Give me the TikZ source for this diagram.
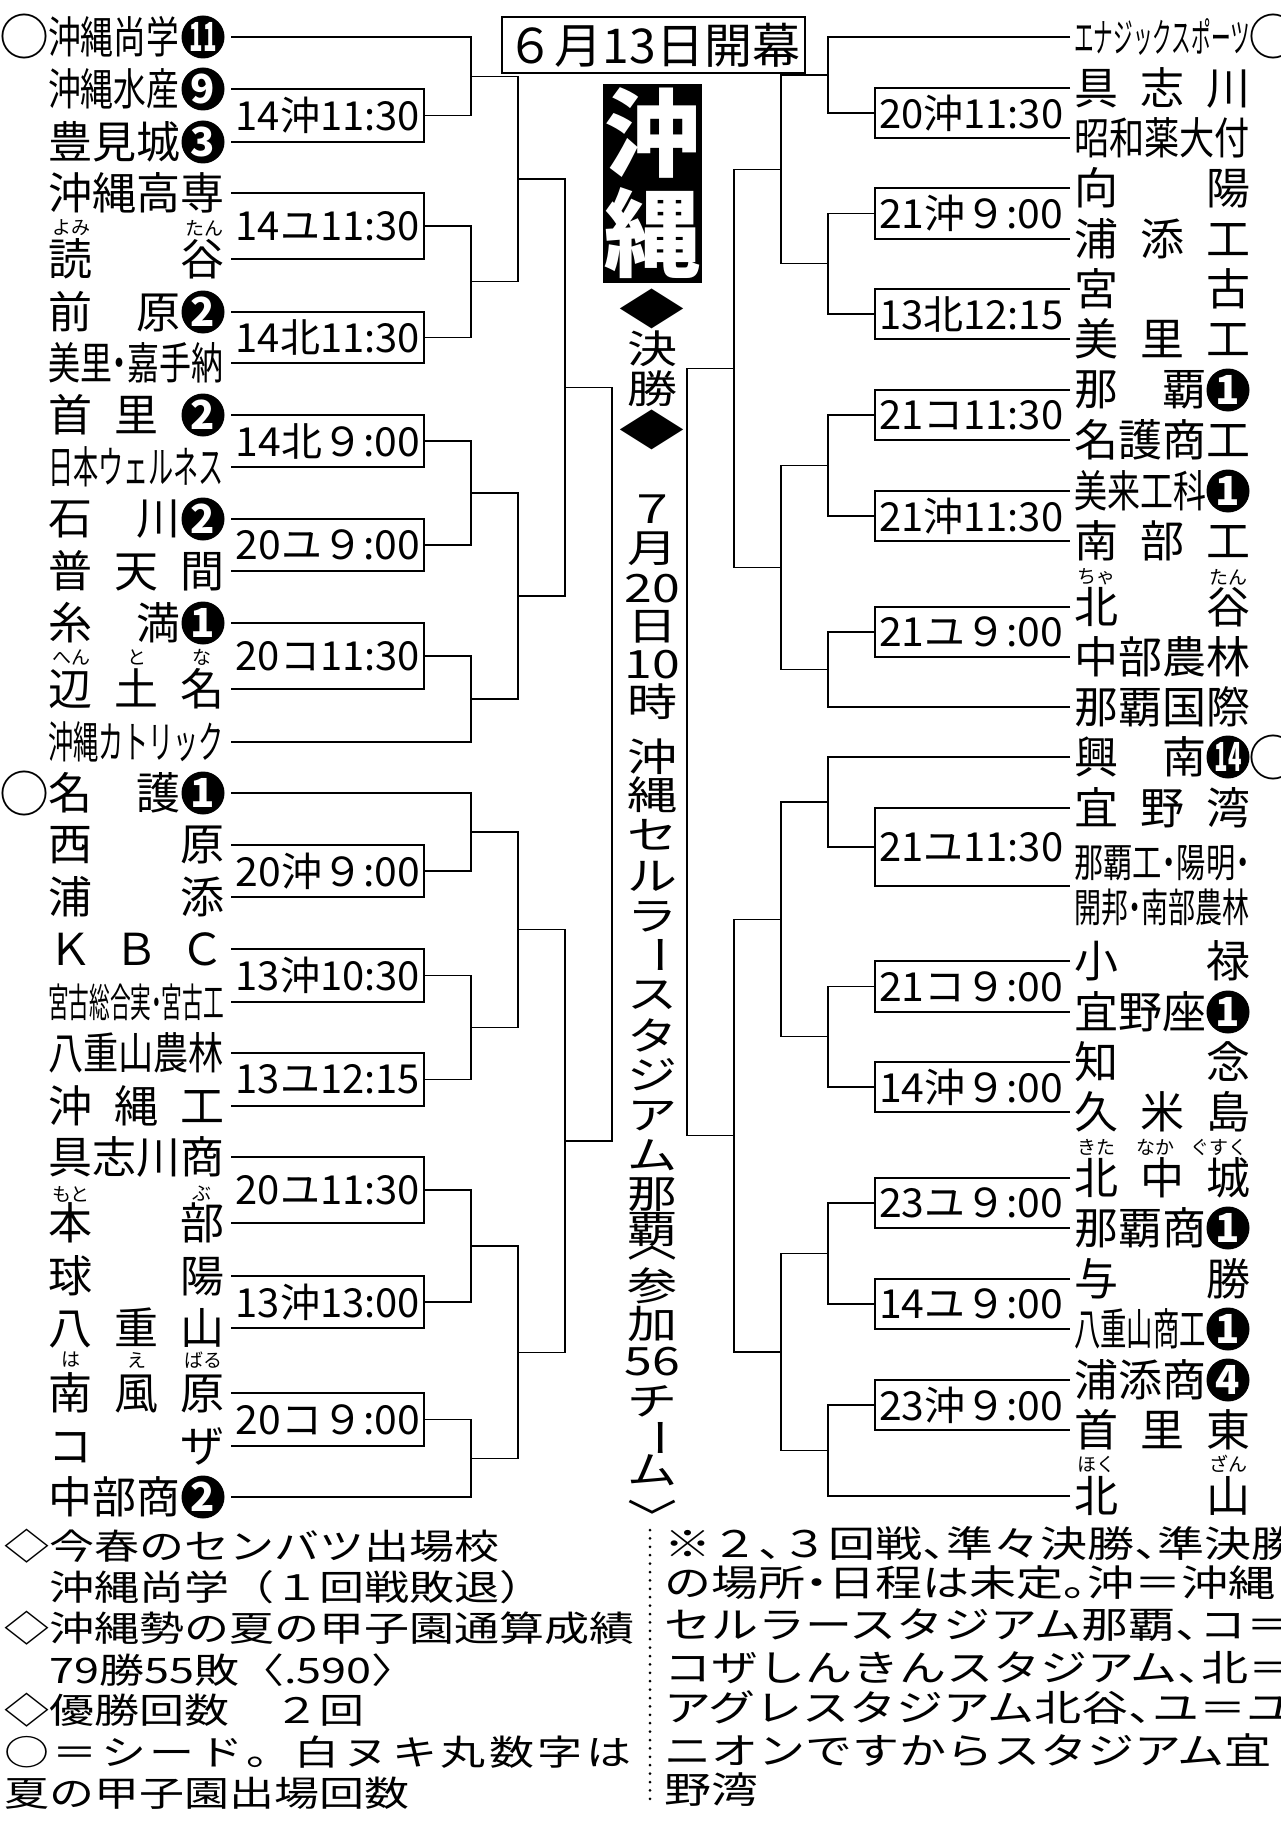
\documentclass[tikz,border=0pt]{standalone}
\usepackage{fontspec}
\usepackage{graphicx}
\setmainfont{Noto Sans CJK JP}
\newfontfamily\haltfont{Noto Sans CJK JP}[RawFeature=+halt]
\newfontfamily\widefont{Noto Sans CJK JP}[LetterSpace=8]
\usetikzlibrary{calc,positioning}

\newcommand\teamfont{\fontsize{44pt}{48pt}\selectfont}
\newcommand\rubyfont{\fontsize{19pt}{20pt}\selectfont}
\newcommand\timefont{\fontsize{40pt}{42pt}\selectfont}
\newcommand\numfont{\fontsize{40pt}{40pt}\selectfont\bfseries}
\newcommand\seedfont{\fontsize{50pt}{50pt}\selectfont}
\newcommand\vfont{\fontsize{50pt}{50pt}\selectfont}
\newcommand\lnotefont{\fontsize{45pt}{45pt}\selectfont}
\newcommand\rnotefont{\haltfont\fontsize{47pt}{47pt}\selectfont}
\newcommand\tname[1]{\makebox[176pt][s]{#1}}
\newcommand\tsq[2][176pt]{\resizebox{#1}{\height}{#2}}
\newcommand\tlab[1]{\resizebox{184pt}{\height}{#1}}
\newcommand\flt[1]{\scalebox{1}[0.78]{#1}}
\newcommand\vlong{\rotatebox[origin=c]{-90}{ー}}
\newcommand\vdia{\scalebox{1.3}[1.05]{◆}}

\begin{document}
\begin{tikzpicture}[x=1pt,y=-1pt,
  team/.style={inner sep=0pt,font=\teamfont},
  lteam/.style={team,anchor=west,outer xsep=7pt},
  rteam/.style={team,anchor=west,outer xsep=4pt},
  ruby/.style={inner sep=0pt,font=\rubyfont},
  numc/.style={circle,fill=black,text=white,inner sep=0pt,minimum size=43pt,font=\numfont},
  seed/.style={inner sep=0pt,font=\seedfont},
  tlbl/.style={inner sep=0pt,font=\timefont},
  vchar/.style={inner sep=0pt,font=\vfont},
  lnote/.style={anchor=west,inner sep=0pt,font=\lnotefont},
  rnote/.style={anchor=west,inner sep=0pt,font=\rnotefont},
  bline/.style={line width=1.2pt},
  byeline/.style={line width=2.2pt}]

\useasboundingbox (0,0) rectangle (1280,1827);
\clip (0,0) rectangle (1280,1827);
\fill[white] (0,0) rectangle (1280,1827);

% left half
\node[lteam] (L1) at (41,37) {\tname{\tsq[131pt]{沖縄尚学}\hfill}};
\node[lteam] (L2) at (41,89) {\tname{\tsq[131pt]{沖縄水産}\hfill}};
\node[lteam] (L3) at (41,142) {\tname{豊見城\hfill}};
\node[lteam] (L4) at (41,193) {\tname{沖縄高専}};
\node[lteam] (L5) at (41,259) {\tname{読\hfill 谷}};
\node[lteam] (L6) at (41,312) {\tname{前\hfill 原\hspace{44pt}}};
\node[lteam] (L7) at (41,363) {\haltfont\tsq{美里・嘉手納}};
\node[lteam] (L8) at (41,415) {\tname{首\hfill 里\hfill\hspace{44pt}}};
\node[lteam] (L9) at (41,467) {\tsq{日本ウェルネス}};
\node[lteam] (L10) at (41,519) {\tname{石\hfill 川\hspace{44pt}}};
\node[lteam] (L11) at (41,571) {\tname{普\hfill 天\hfill 間}};
\node[lteam] (L12) at (41,623) {\tname{糸\hfill 満\hspace{44pt}}};
\node[lteam] (L13) at (41,689) {\tname{辺\hfill 土\hfill 名}};
\node[lteam] (L14) at (41,742) {\tsq{沖縄カトリック}};
\node[lteam] (L15) at (41,793) {\tname{名\hfill 護\hspace{44pt}}};
\node[lteam] (L16) at (41,845) {\tname{西\hfill 原}};
\node[lteam] (L17) at (41,897) {\tname{浦\hfill 添}};
\node[lteam] (L18) at (41,949) {\tname{Ｋ\hfill Ｂ\hfill Ｃ}};
\node[lteam,font=\fontsize{40pt}{44pt}\selectfont] (L19) at (41,1002) {\haltfont\tsq{宮古総合実・宮古工}};
\node[lteam] (L20) at (41,1053) {\tsq{八重山農林}};
\node[lteam] (L21) at (41,1106) {\tname{沖\hfill 縄\hfill 工}};
\node[lteam] (L22) at (41,1157) {\tname{具志川商}};
\node[lteam] (L23) at (41,1223) {\tname{本\hfill 部}};
\node[lteam] (L24) at (41,1276) {\tname{球\hfill 陽}};
\node[lteam] (L25) at (41,1328) {\tname{八\hfill 重\hfill 山}};
\node[lteam] (L26) at (41,1393) {\tname{南\hfill 風\hfill 原}};
\node[lteam] (L27) at (41,1446) {\tname{コ\hfill ザ}};
\node[lteam] (L28) at (41,1497) {\tname{中部商\hfill}};

\node[seed] (L1s) at (24,37) {○};
\node[seed] (L15s) at (24,793) {○};
\node[numc] (L1n) at (203,37) {\tsq[27pt]{11}};
\node[numc] (L2n) at (203,89) {9};
\node[numc] (L3n) at (203,142) {3};
\node[numc] (L6n) at (203,312) {2};
\node[numc] (L8n) at (203,415) {2};
\node[numc] (L10n) at (203,519) {2};
\node[numc] (L12n) at (203,623) {1};
\node[numc] (L15n) at (203,793) {1};
\node[numc] (L28n) at (203,1497) {2};

\node[ruby] (L5a) at (71,228) {よみ};
\node[ruby] (L5b) at (204,228) {たん};
\node[ruby] (L13a) at (71,657) {へん};
\node[ruby] (L13b) at (137,657) {と};
\node[ruby] (L13c) at (202,657) {な};
\node[ruby] (L23a) at (71,1194) {もと};
\node[ruby] (L23b) at (202,1194) {ぶ};
\node[ruby] (L26a) at (71,1360) {は};
\node[ruby] (L26b) at (137,1360) {え};
\node[ruby] (L26c) at (203,1360) {ばる};

% right half
\node[rteam,font=\fontsize{40pt}{44pt}\selectfont] (R1) at (1070,37) {\tsq{エナジックスポーツ}};
\node[rteam] (R2) at (1070,88) {\tname{具\hfill 志\hfill 川}};
\node[rteam] (R3) at (1070,138) {\tsq{昭和薬大付}};
\node[rteam] (R4) at (1070,188) {\tname{向\hfill 陽}};
\node[rteam] (R5) at (1070,239) {\tname{浦\hfill 添\hfill 工}};
\node[rteam] (R6) at (1070,289) {\tname{宮\hfill 古}};
\node[rteam] (R7) at (1070,339) {\tname{美\hfill 里\hfill 工}};
\node[rteam] (R8) at (1070,390) {\tname{那\hfill 覇\hspace{44pt}}};
\node[rteam] (R9) at (1070,440) {\tname{名護商工}};
\node[rteam] (R10) at (1070,491) {\tname{\tsq[132pt]{美来工科}\hfill}};
\node[rteam] (R11) at (1070,541) {\tname{南\hfill 部\hfill 工}};
\node[rteam] (R12) at (1070,607) {\tname{北\hfill 谷}};
\node[rteam] (R13) at (1070,657) {\tname{中部農林}};
\node[rteam] (R14) at (1070,707) {\tname{那覇国際}};
\node[rteam] (R15) at (1070,757) {\tname{興\hfill 南\hspace{44pt}}};
\node[rteam] (R16) at (1070,808) {\tname{宜\hfill 野\hfill 湾}};
\node[rteam,align=left,font=\haltfont\fontsize{40pt}{45pt}\selectfont] (R17) at (1070,886) {\tsq{那覇工・陽明・}\\\tsq{開邦・南部農林}};
\node[rteam] (R18) at (1070,961) {\tname{小\hfill 禄}};
\node[rteam] (R19) at (1070,1012) {\tname{宜野座\hfill}};
\node[rteam] (R20) at (1070,1062) {\tname{知\hfill 念}};
\node[rteam] (R21) at (1070,1112) {\tname{久\hfill 米\hfill 島}};
\node[rteam] (R22) at (1070,1178) {\tname{北\hfill 中\hfill 城}};
\node[rteam] (R23) at (1070,1228) {\tname{那覇商\hfill}};
\node[rteam] (R24) at (1070,1279) {\tname{与\hfill 勝}};
\node[rteam] (R25) at (1070,1329) {\tname{\tsq[132pt]{八重山商工}\hfill}};
\node[rteam] (R26) at (1070,1380) {\tname{浦添商\hfill}};
\node[rteam] (R27) at (1070,1430) {\tname{首\hfill 里\hfill 東}};
\node[rteam] (R28) at (1070,1496) {\tname{北\hfill 山}};

\node[seed] (R1s) at (1273,37) {○};
\node[seed] (R15s) at (1273,757) {○};
\node[numc] (R8n) at (1228,390) {1};
\node[numc] (R10n) at (1228,491) {1};
\node[numc] (R15n) at (1228,757) {\tsq[27pt]{14}};
\node[numc] (R19n) at (1228,1012) {1};
\node[numc] (R23n) at (1228,1228) {1};
\node[numc] (R25n) at (1228,1329) {1};
\node[numc] (R26n) at (1228,1380) {4};

\node[ruby] (R12a) at (1096,577) {ちゃ};
\node[ruby] (R12b) at (1228,577) {たん};
\node[ruby] (R22a) at (1096,1147) {きた};
\node[ruby] (R22b) at (1155,1147) {なか};
\node[ruby] (R22c) at (1219,1147) {ぐすく};
\node[ruby] (R28a) at (1096,1464) {ほく};
\node[ruby] (R28b) at (1228,1464) {ざん};

% first round
\foreach \n/\hi/\lo/\lab in {2/2/3/14沖11:30, 3/4/5/14ユ11:30, 4/6/7/14北11:30,
    5/8/9/14北９:00, 6/10/11/20ユ９:00, 7/12/13/20コ11:30, 10/16/17/20沖９:00,
    11/18/19/13沖10:30, 12/20/21/13ユ12:15, 13/22/23/20ユ11:30,
    14/24/25/13沖13:00, 15/26/27/20コ９:00} {
  \coordinate (Lg0-\n) at ($(L\hi.east)!.5!(L\lo.east)+(193,0)$);
  \draw[bline] (L\hi.east) -| (Lg0-\n) |- (L\lo.east);
  \node[tlbl,left=4pt of Lg0-\n] (Lt\n) {\tlab{\lab}};
}
\foreach \n/\hi/\lo/\lab in {2/2/3/20沖11:30, 3/4/5/21沖９:00, 4/6/7/13北12:15,
    5/8/9/21コ11:30, 6/10/11/21沖11:30, 7/12/13/21ユ９:00, 10/16/17/21ユ11:30,
    11/18/19/21コ９:00, 12/20/21/14沖９:00, 13/22/23/23ユ９:00,
    14/24/25/14ユ９:00, 15/26/27/23沖９:00} {
  \coordinate (Rg0-\n) at ($(R\hi.west)!.5!(R\lo.west)+(-195,0)$);
  \draw[bline] (R\hi.west) -| (Rg0-\n) |- (R\lo.west);
  \node[tlbl,right=4pt of Rg0-\n] (Rt\n) {\tlab{\lab}};
}
\foreach \n/\k in {1/1, 8/14, 9/15, 16/28} {
  \coordinate (Lg0-\n) at ($(L\k.east)+(193,0)$);
  \draw[byeline] (L\k.east) -- (Lg0-\n);
  \coordinate (Rg0-\n) at ($(R\k.west)+(-195,0)$);
  \draw[byeline] (R\k.west) -- (Rg0-\n);
}

% later rounds
\foreach \s/\d in {L/47, R/-47} {
  \foreach \lev/\prev/\num in {1/0/8, 2/1/4, 3/2/2, 4/3/1} {
    \foreach \n in {1,...,\num} {
      \pgfmathtruncatemacro\ia{2*\n-1}
      \pgfmathtruncatemacro\ib{2*\n}
      \coordinate (\s g\lev-\n) at ($(\s g\prev-\ia)!.5!(\s g\prev-\ib)+(\d,0)$);
      \draw[bline] (\s g\prev-\ia) -| (\s g\lev-\n) |- (\s g\prev-\ib);
    }
  }
}

% centre column
\node[draw,line width=1.2pt,minimum width=303pt,minimum height=56pt,inner sep=0pt,
  font=\fontsize{48pt}{48pt}\selectfont] (open) at (653.5,45) {６月13日開幕};
\node[fill=black,text=white,minimum width=99pt,minimum height=199pt,inner sep=0pt,
  align=center,font=\fontsize{96pt}{100pt}\selectfont\bfseries] (oki) at (652.5,183.5) {沖\\縄};
\foreach \c/\y [count=\i] in {\vdia/309, 決/349, 勝/389, \vdia/430,
    ７/509, 月/549, 20/589, 日/627, 10/665, 時/702,
    沖/757, 縄/795, セ/835, ル/876, ラ/917, \vlong/955, ス/995, タ/1035,
    ジ/1075, ア/1116, ム/1155, 那/1195, 覇/1230, ︿/1253, 参/1286,
    加/1324, 56/1362, チ/1401, \vlong/1438, ム/1470, ﹀/1516}
  \node[vchar] (v\i) at (652,\y) {\flt{\c}};

% notes
\node[lnote] (nl1) at (4,1546) {\flt{◇今春のセンバツ出場校}};
\node[lnote] (nl2) at (49,1587) {\flt{沖縄尚学（１回戦敗退）}};
\node[lnote] (nl3) at (4,1628) {\flt{◇沖縄勢の夏の甲子園通算成績}};
\node[lnote] (nl4) at (49,1670) {\flt{79勝55敗〈.590〉}};
\node[lnote] (nl5) at (4,1710) {\flt{◇優勝回数　２回}};
\node[lnote] (nl6) at (4,1752) {\flt{\widefont ○＝シード。白ヌキ丸数字は}};
\node[lnote] (nl7) at (4,1793) {\flt{夏の甲子園出場回数}};

\coordinate (sepA) at (650,1530);
\coordinate (sepB) at (650,1807);
\draw[line width=3pt,line cap=round,dash pattern=on 0pt off 8.4pt] (sepA) -- (sepB);

\node[rnote] (nr1) at (664,1543) {\flt{※２、３回戦、準々決勝、準決勝}};
\node[rnote] (nr2) at (664,1583) {\flt{の場所・日程は未定。沖＝沖縄}};
\node[rnote] (nr3) at (664,1625) {\flt{セルラースタジアム那覇、コ＝}};
\node[rnote] (nr4) at (664,1668) {\flt{コザしんきんスタジアム、北＝}};
\node[rnote] (nr5) at (664,1708) {\flt{アグレスタジアム北谷、ユ＝ユ}};
\node[rnote] (nr6) at (664,1750) {\flt{ニオンですからスタジアム宜}};
\node[rnote] (nr7) at (664,1790) {\flt{野湾}};
\end{tikzpicture}
\end{document}
